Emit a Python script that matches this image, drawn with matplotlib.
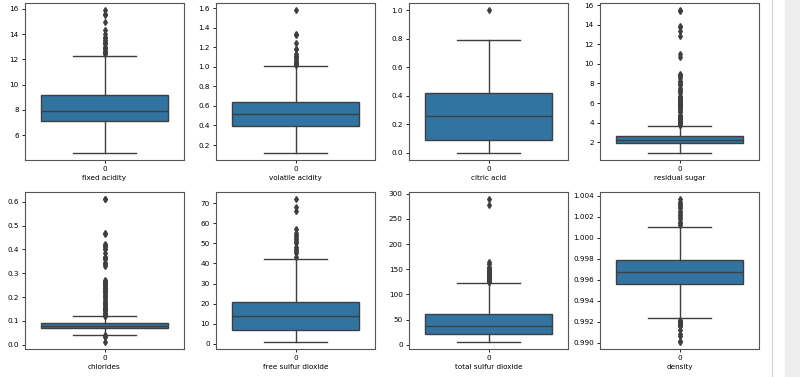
import matplotlib.pyplot as plt
from matplotlib.patches import Rectangle
from matplotlib.lines import Line2D

# Column names (x labels)
columns = ['fixed acidity', 'volatile acidity', 'citric acid', 'residual sugar',
           'chlorides', 'free sulfur dioxide', 'total sulfur dioxide', 'density']

# Box statistics
q1 = [7.1, 0.39, 0.09, 1.9, 0.070, 7, 22, 0.99560]
med = [7.9, 0.52, 0.26, 2.2, 0.079, 14, 38, 0.99675]
q3 = [9.2, 0.64, 0.42, 2.6, 0.090, 21, 62, 0.99784]
whislo = [4.6, 0.12, 0.0, 0.9, 0.041, 1, 6, 0.99236]
whishi = [12.3, 1.01, 0.79, 3.6, 0.119, 42, 122, 1.00100]

# Outliers (estimated)
fl_fixed = [12.4, 12.5, 12.6, 12.7, 12.8, 12.9, 13.0, 13.2, 13.3, 13.4, 13.5,
            13.7, 13.8, 14.0, 14.3, 15.0, 15.5, 15.6, 15.9]
fl_volatile = [1.02, 1.025, 1.035, 1.04, 1.05, 1.07, 1.09, 1.10, 1.115, 1.13,
               1.18, 1.185, 1.24, 1.33, 1.335, 1.58]
fl_citric = [1.0]
fl_sugar = [3.7, 3.8, 3.9, 4.0, 4.1, 4.2, 4.3, 4.4, 4.5, 4.6, 4.65, 4.7, 4.8,
            5.1, 5.2, 5.4, 5.5, 5.6, 5.7, 5.8, 5.9, 6.0, 6.1, 6.2, 6.3, 6.4,
            6.55, 6.6, 6.7, 7.0, 7.2, 7.3, 7.5, 7.8, 7.9, 8.1, 8.3, 8.6, 8.8,
            8.9, 9.0, 10.7, 11.0, 12.9, 13.4, 13.8, 13.9, 15.4, 15.5]
fl_chlorides = [0.012, 0.034, 0.038, 0.039, 0.12, 0.122, 0.125, 0.13, 0.135,
                0.14, 0.145, 0.15, 0.155, 0.16, 0.165, 0.17, 0.175, 0.18,
                0.185, 0.19, 0.2, 0.205, 0.21, 0.215, 0.22, 0.226, 0.23,
                0.236, 0.24, 0.245, 0.25, 0.256, 0.26, 0.263, 0.267, 0.27,
                0.33, 0.337, 0.341, 0.343, 0.358, 0.36, 0.368, 0.369, 0.387,
                0.401, 0.403, 0.413, 0.414, 0.415, 0.422, 0.464, 0.467,
                0.61, 0.611]
fl_free = [43, 45, 46, 47, 48, 50, 51, 52, 53, 54, 55, 57, 66, 68, 72]
fl_total = [124, 125, 126, 127, 128, 129, 131, 133, 134, 135, 136, 139, 140,
            141, 143, 144, 145, 147, 148, 149, 151, 152, 153, 155, 160, 165,
            278, 289]
fl_density = [0.99007, 0.99020, 0.99064, 0.99080, 0.99120, 0.99154, 0.99160,
              0.99170, 0.99180, 0.99190, 0.99200, 0.99210, 0.99220, 1.00120,
              1.00140, 1.00150, 1.00180, 1.00200, 1.00220, 1.00240, 1.00260,
              1.00280, 1.00290, 1.00310, 1.00320, 1.00340, 1.00369]
fliers = [fl_fixed, fl_volatile, fl_citric, fl_sugar,
          fl_chlorides, fl_free, fl_total, fl_density]

box_col = '#3274a1'
line_col = '#3f3f3f'

fig = plt.figure(figsize=(8, 3.77), dpi=100)

# axes positions in pixels
lefts = [25, 216, 409, 600]
rows = [(3, 160), (192, 349)]
W, H = 800., 377.

for i, col in enumerate(columns):
    r, c = divmod(i, 4)
    top, bot = rows[r]
    ax = fig.add_axes([lefts[c] / W, 1 - bot / H, 159 / W, (bot - top) / H])
    st = [dict(q1=q1[i], med=med[i], q3=q3[i], whislo=whislo[i],
               whishi=whishi[i], fliers=fliers[i])]
    ax.bxp(st, positions=[0], widths=0.8, patch_artist=True,
           boxprops=dict(facecolor=box_col, edgecolor=line_col, linewidth=1),
           medianprops=dict(color=line_col, linewidth=1),
           whiskerprops=dict(color=line_col, linewidth=1),
           capprops=dict(color=line_col, linewidth=1),
           flierprops=dict(marker='d', markerfacecolor=line_col,
                           markeredgecolor=line_col, markersize=3))
    ax.set_xlim(-0.5, 0.5)
    ax.set_xticks([0])
    ax.set_xticklabels(['0'])
    ax.set_xlabel(col, fontsize=5.2, labelpad=2)
    ax.tick_params(labelsize=5.2, length=2.5, width=0.6, pad=2)
    for s in ax.spines.values():
        s.set_linewidth(0.8)
        s.set_color('#555555')

# notebook scroll area on the right
fig.add_artist(Line2D([772 / W, 772 / W], [0, 1], color='#d0d0d0', lw=0.8))
fig.add_artist(Rectangle((785 / W, 0), 15 / W, 1, color='#eeeeee',
                         transform=fig.transFigure))

fig.savefig('out.png', dpi=100)
